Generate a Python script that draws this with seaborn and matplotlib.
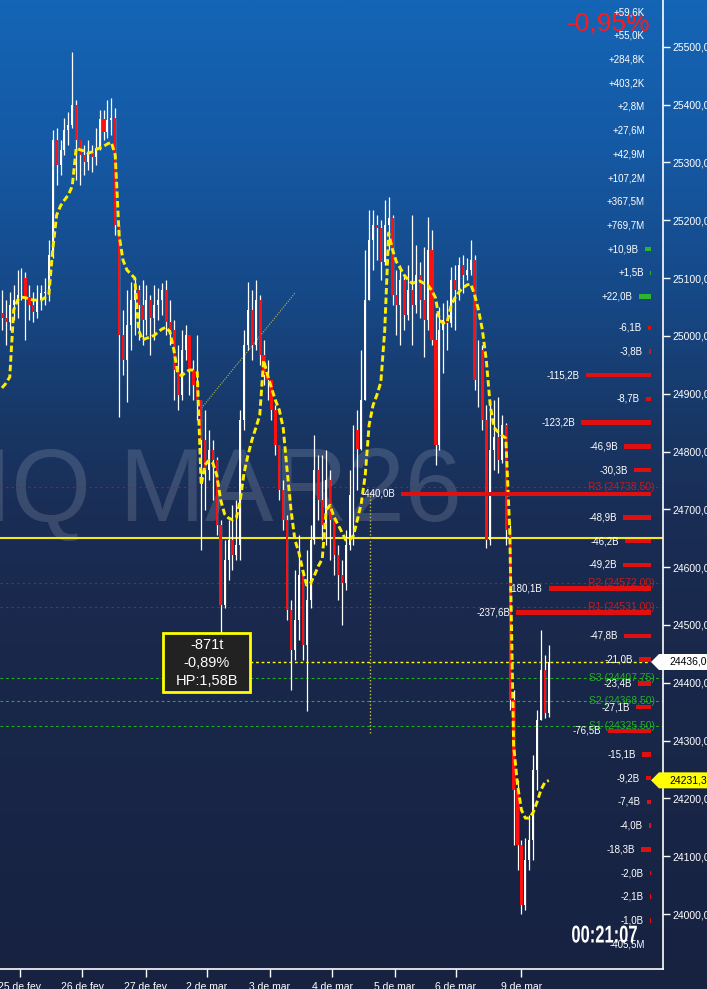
import numpy as np
import matplotlib
matplotlib.use("Agg")
import matplotlib.pyplot as plt
import matplotlib.transforms as mtransforms
from matplotlib.colors import LinearSegmentedColormap
from matplotlib.patches import Rectangle, Polygon
from matplotlib.patheffects import AbstractPathEffect
import seaborn as sns

# ================= DATA =================
first_open = 25040
closes = [
    25031, 25024, 25053, 25062, 25071,
    25100, 25067, 25053, 25041, 25062,
    25074, 25076, 25140, 25339, 25296,
    25321, 25356, 25365, 25399, 25339,
    25313, 25301, 25318, 25309, 25325,
    25375, 25353, 25373, 25377, 25192,
    25001, 24958, 25019, 25062, 25079,
    25053, 25027, 25062, 25031, 25053,
    25062, 25079, 25024, 25010, 24941,
    24898, 24976, 25001, 24941, 24915,
    24889, 24820, 24768, 24802, 24785,
    24673, 24534, 24612, 24647, 24621,
    24638, 24854, 24984, 25045, 24984,
    25062, 24967, 24932, 24924, 24872,
    24811, 24733, 24681, 24526, 24456,
    24508, 24586, 24465, 24543, 24647,
    24768, 24716, 24673, 24751, 24681,
    24621, 24586, 24572, 24638, 24725,
    24837, 24804, 24889, 25062, 25166,
    25192, 25187, 25128, 25192, 25204,
    25071, 25053, 25097, 25036, 25079,
    25053, 25105, 25062, 25027, 25149,
    24993, 24811, 25010, 25027, 25022,
    25097, 25079, 25123, 25105, 25114,
    25131, 24924, 24976, 24855, 24647,
    24803, 24825, 24785, 24846, 24664,
    24370, 24214, 24119, 24015, 24093,
    24128, 24249, 24335, 24422, 24348,
    24436,
]
highs = [
    25079, 25062, 25076, 25088, 25114,
    25117, 25110, 25088, 25076, 25088,
    25088, 25100, 25166, 25356, 25360,
    25339, 25377, 25387, 25491, 25408,
    25339, 25330, 25339, 25330, 25360,
    25391, 25391, 25408, 25411, 25394,
    25192, 25045, 25079, 25093, 25100,
    25088, 25097, 25088, 25071, 25088,
    25083, 25091, 25097, 25062, 25027,
    24984, 25010, 25019, 25001, 24958,
    25001, 24889, 24872, 24837, 24820,
    24790, 24681, 24647, 24681, 24707,
    24716, 24872, 25010, 25093, 25079,
    25097, 25071, 24993, 24958, 24924,
    24880, 24811, 24751, 24690, 24543,
    24595, 24655, 24595, 24629, 24673,
    24828, 24794, 24794, 24802, 24768,
    24681, 24638, 24612, 24664, 24768,
    24846, 24872, 24976, 25149, 25218,
    25218, 25209, 25200, 25235, 25240,
    25209, 25114, 25123, 25105, 25123,
    25209, 25157, 25128, 25154, 25206,
    25183, 25040, 25050, 25057, 25062,
    25119, 25123, 25136, 25140, 25135,
    25166, 25140, 24993, 24984, 24880,
    24889, 24889, 24894, 24863, 24850,
    24673, 24388, 24232, 24128, 24131,
    24171, 24275, 24353, 24491, 24448,
    24465,
]
lows = [
    25010, 24984, 25010, 25027, 25031,
    25062, 24993, 25027, 25024, 25031,
    25045, 25053, 25060, 25135, 25261,
    25278, 25313, 25330, 25360, 25270,
    25261, 25278, 25287, 25283, 25296,
    25321, 25339, 25342, 25347, 25174,
    24860, 24932, 24886, 24975, 25001,
    24993, 24984, 25001, 24967, 24993,
    25027, 25036, 25001, 24984, 24889,
    24872, 24889, 24958, 24898, 24889,
    24854, 24629, 24699, 24751, 24716,
    24655, 24486, 24529, 24578, 24595,
    24612, 24612, 24837, 24975, 24958,
    24975, 24950, 24915, 24889, 24854,
    24794, 24716, 24664, 24508, 24387,
    24439, 24474, 24439, 24351, 24530,
    24640, 24681, 24647, 24638, 24612,
    24586, 24543, 24500, 24560, 24629,
    24638, 24733, 24803, 24889, 25062,
    25114, 25131, 25097, 25123, 25149,
    25053, 25001, 24984, 25010, 25027,
    24984, 25040, 25031, 24963, 25010,
    24984, 24777, 24803, 24936, 24976,
    25015, 25010, 25062, 25074, 25097,
    25105, 24906, 24877, 24837, 24633,
    24638, 24768, 24763, 24780, 24638,
    24353, 24119, 24076, 24000, 24007,
    24076, 24093, 24215, 24335, 24339,
    24340,
]
ma_line = [
    24910, 24918, 24929, 25045, 25062,
    25067, 25066, 25064, 25062, 25062,
    25062, 25066, 25071, 25149, 25209,
    25225, 25235, 25244, 25259, 25325,
    25322, 25320, 25316, 25318, 25322,
    25325, 25328, 25332, 25335, 25313,
    25174, 25131, 25114, 25107, 25100,
    25010, 24993, 24996, 24998, 25001,
    25007, 25012, 25015, 25007, 24976,
    24936, 24931, 24937, 24941, 24941,
    24937, 24742, 24777, 24785, 24780,
    24759, 24716, 24692, 24685, 24682,
    24685, 24716, 24764, 24794, 24820,
    24841, 24863, 24958, 24932, 24910,
    24889, 24872, 24841, 24768, 24699,
    24647, 24626, 24595, 24569, 24572,
    24586, 24602, 24614, 24699, 24707,
    24687, 24674, 24661, 24647, 24647,
    24655, 24682, 24711, 24759, 24846,
    24880, 24898, 24920, 25010, 25178,
    25149, 25128, 25117, 25105, 25097,
    25091, 25093, 25095, 25091, 25088,
    25079, 25066, 25027, 25022, 25024,
    25053, 25066, 25076, 25083, 25088,
    25090, 25071, 25045, 25010, 24958,
    24880, 24841, 24834, 24828, 24823,
    24664, 24292, 24223, 24180, 24166,
    24166, 24176, 24194, 24215, 24228,
    24231,
]

day_labels = ["25 de fev", "26 de fev", "27 de fev", "2 de mar", "3 de mar",
              "4 de mar", "5 de mar", "6 de mar", "9 de mar"]
day_start_idx = [4.6, 20.6, 36.8, 52.5, 68.6, 84.5, 100.5, 116.2, 133.0]

# volume profile (top = positive delta, below = negative delta)
vp_pos_values = [59.6e3, 55.0e3, 284.8e3, 403.2e3, 2.8e6, 27.6e6, 42.9e6,
                 107.2e6, 367.5e6, 769.7e6, 10.9e9, 1.5e9, 22.0e9]
vp_neg_values = [6.1e9, 3.8e9, 115.2e9, 8.7e9, 123.2e9, 46.9e9, 30.3e9,
                 440.0e9, 48.9e9, 46.2e9, 49.2e9, 180.1e9, 237.6e9, 47.8e9,
                 21.0e9, 23.4e9, 27.1e9, 76.5e9, 15.1e9, 9.2e9, 7.4e9, 4.0e9,
                 18.3e9, 2.0e9, 2.1e9, 1.0e9, 405.5e6]
vp_pos_top = 25560
vp_neg_top = 25014
vp_step = 41

pivot_names = ["R3", "R2", "R1", "S3", "S2", "S1"]
pivot_values = [24738.50, 24572.00, 24531.00, 24407.75, 24368.50, 24325.50]
ref_level = 24651
last_price = 24436.00
ma_last = 24231.30
trend_idx = [50.7, 75.0]
trend_price = [24872, 25074]
vline_idx = 94.2
vline_price = [24313, 24733]

day_change = "-0,95%"
info_lines = ["-871t", "-0,89%", "HP:1,58B"]
clock = "00:21:07"
watermark = "NQ MAR26"

# ================= LAYOUT =================
W, H = 707, 989
AX_W, AX_H = 663, 969
IDX_PX = 3.906
Y_LO, Y_HI = 23905, 25581
P_PER_PX = (Y_HI - Y_LO) / AX_H

plt.rcParams['font.family'] = ['Liberation Sans', 'DejaVu Sans']


def px2idx(px):
    return px / IDX_PX - 0.5


class HSqueeze(AbstractPathEffect):
    """Squeeze glyphs horizontally around a fixed pixel column."""

    def __init__(self, sx, cx):
        super().__init__()
        self.sx = sx
        self.cx = cx

    def draw_path(self, renderer, gc, tpath, affine, rgbFace=None):
        sq = mtransforms.Affine2D().translate(-self.cx, 0).scale(self.sx, 1) \
            .translate(self.cx, 0)
        renderer.draw_path(gc, tpath, affine + sq, rgbFace)


fig = plt.figure(figsize=(W / 100, H / 100), dpi=100)

# background gradient
bg = fig.add_axes([0, 0, 1, 1])
bg.set_zorder(-1)
cmap = LinearSegmentedColormap.from_list("bg", [
    (0.0, "#1465b6"), (0.15, "#1559a4"), (0.30, "#164886"), (0.42, "#183867"),
    (0.52, "#1a2d55"), (0.65, "#19284b"), (1.0, "#172241")])
bg.imshow(np.linspace(0, 1, 600).reshape(-1, 1), cmap=cmap, aspect="auto",
          extent=(0, W, H, 0))
bg.set_xlim(0, W)
bg.set_ylim(H, 0)
bg.set_axis_off()
bg.text(462, 521, watermark, ha="right", va="baseline", fontsize=74,
        color=(1, 1, 1, 0.14))
bg.text(651, 23, day_change, ha="right", va="center", fontsize=19, color="#ff1a1a")

# main price axes
ax = fig.add_axes([0, (H - AX_H) / H, AX_W / W, AX_H / H])
ax.set_zorder(1)
ax.patch.set_alpha(0)
n = len(closes)
idx = np.arange(n)
opens = np.array([first_open] + closes[:-1], dtype=float)
closes_a = np.array(closes, dtype=float)
up = closes_a >= opens

# pivot / reference lines
for name, val in zip(pivot_names, pivot_values):
    col = "#b01818" if name.startswith("R") else "#22b022"
    ls = (0, (2, 3)) if name.startswith("R") else (0, (2.5, 2.5))
    ax.axhline(val, color=col, lw=0.8, ls=ls, zorder=1)
    txt = f"{name} ({val:.2f})".replace(".", ",")
    ax.text(px2idx(655), val, txt, ha="right", va="center", fontsize=7.5,
            color="#c41c1c" if name.startswith("R") else "#22b022", zorder=1.5)
ax.axhline(ref_level, color="#f2e81a", lw=1.5, zorder=1)
ax.plot([px2idx(250), px2idx(650)], [last_price, last_price], color="#ffff00",
        lw=1, ls=(0, (2, 2)), zorder=1)
ax.plot([vline_idx, vline_idx], vline_price, color="#c8c040", lw=1,
        ls=(0, (1, 1.5)), zorder=1)
ax.plot(trend_idx, trend_price, color="#b8b840", lw=0.8, ls=(0, (1, 1.2)), zorder=1)

# candles
ax.vlines(idx, lows, highs, color="white", lw=0.9, zorder=2)
body_lo = np.minimum(opens, closes_a)
body_h = np.maximum(np.abs(closes_a - opens), 1.5)
ax.bar(idx[up], body_h[up], bottom=body_lo[up], width=0.5, color="white",
       linewidth=0, zorder=2.5)
ax.bar(idx[~up], body_h[~up], bottom=body_lo[~up], width=0.62, color="#ff1010",
       linewidth=0, zorder=2.6)

# moving average
sns.lineplot(x=idx, y=ma_line, ax=ax, color="#ffee00", linewidth=2.1,
             linestyle=(0, (2.2, 1.1)), zorder=4)


# volume profile
def fmt_vol(v, sign):
    if v >= 1e9:
        s = f"{v / 1e9:.1f}B"
    elif v >= 1e6:
        s = f"{v / 1e6:.1f}M"
    else:
        s = f"{v / 1e3:.1f}K"
    return sign + s.replace(".", ",")


bar_h = 4.5 * P_PER_PX
groups = [(vp_pos_values, vp_pos_top, "+", "#2db52d"),
          (vp_neg_values, vp_neg_top, "-", "#e01010")]
for values, top, sign, col in groups:
    prices = top - vp_step * np.arange(len(values))
    for v, p in zip(values, prices):
        length = v / 1e9 * 0.568 if v >= 1e9 else 0.0
        if 0 < length < 1.2:
            length = 1.2
        left_px = 651 - length
        if length > 0:
            ax.barh(p, length / IDX_PX, left=px2idx(left_px), height=bar_h,
                    color=col, linewidth=0, zorder=5)
        ax.text(px2idx(min(left_px, 651) - 6), p, fmt_vol(v, sign), ha="right",
                va="center", fontsize=7, color="white", zorder=6)

# axes styling
ax.set_xlim(-0.5, px2idx(AX_W))
ax.set_ylim(Y_LO, Y_HI)
for side in ["left", "top"]:
    ax.spines[side].set_visible(False)
for side in ["right", "bottom"]:
    ax.spines[side].set_color("white")
    ax.spines[side].set_linewidth(1.2)
ax.yaxis.tick_right()
yt = np.arange(24000, 25501, 100)
ax.set_yticks(yt)
ax.set_yticklabels([f"{v:.2f}".replace(".", ",") for v in yt])
ax.tick_params(axis="y", colors="white", length=5, width=1, labelsize=7.5, pad=2)
ax.set_xticks(day_start_idx)
ax.set_xticklabels(day_labels)
ax.tick_params(axis="x", colors="white", length=6, width=1, labelsize=7.5, pad=3)
ax.set_xlabel("")
ax.set_ylabel("")
ax.grid(False)

# price tags on the right scale
trans = mtransforms.blended_transform_factory(ax.transAxes, ax.transData)
th = 8 * P_PER_PX
for price, fc in [(last_price, "white"), (ma_last, "#ffff00")]:
    poly = Polygon([(651 / AX_W, price), (659 / AX_W, price + th),
                    (715 / AX_W, price + th), (715 / AX_W, price - th),
                    (659 / AX_W, price - th)], closed=True, transform=trans,
                   fc=fc, ec="none", clip_on=False, zorder=7)
    ax.add_patch(poly)
    ax.text(669 / AX_W, price, f"{price:.2f}".replace(".", ","), transform=trans,
            ha="left", va="center", fontsize=7.5, color="black", clip_on=False,
            zorder=8)

# overlay: info box and clock
ov = fig.add_axes([0, 0, 1, 1])
ov.set_zorder(10)
ov.patch.set_alpha(0)
ov.set_xlim(0, W)
ov.set_ylim(H, 0)
ov.set_axis_off()
ov.add_patch(Rectangle((163, 633), 87, 59, fc="#222222", ec="#ffff00", lw=2))
for k, line in enumerate(info_lines):
    ov.text(207, 645 + 18 * k, line, ha="center", va="center", fontsize=10.5,
            color="white")

# condensed bold clock: real text squeezed horizontally
ov.text(604.5, 936, clock, ha="center", va="center", fontsize=17.5,
        fontweight="bold", color="white",
        path_effects=[HSqueeze(0.68, 604.5)])

fig.savefig("out.png", dpi=100)
